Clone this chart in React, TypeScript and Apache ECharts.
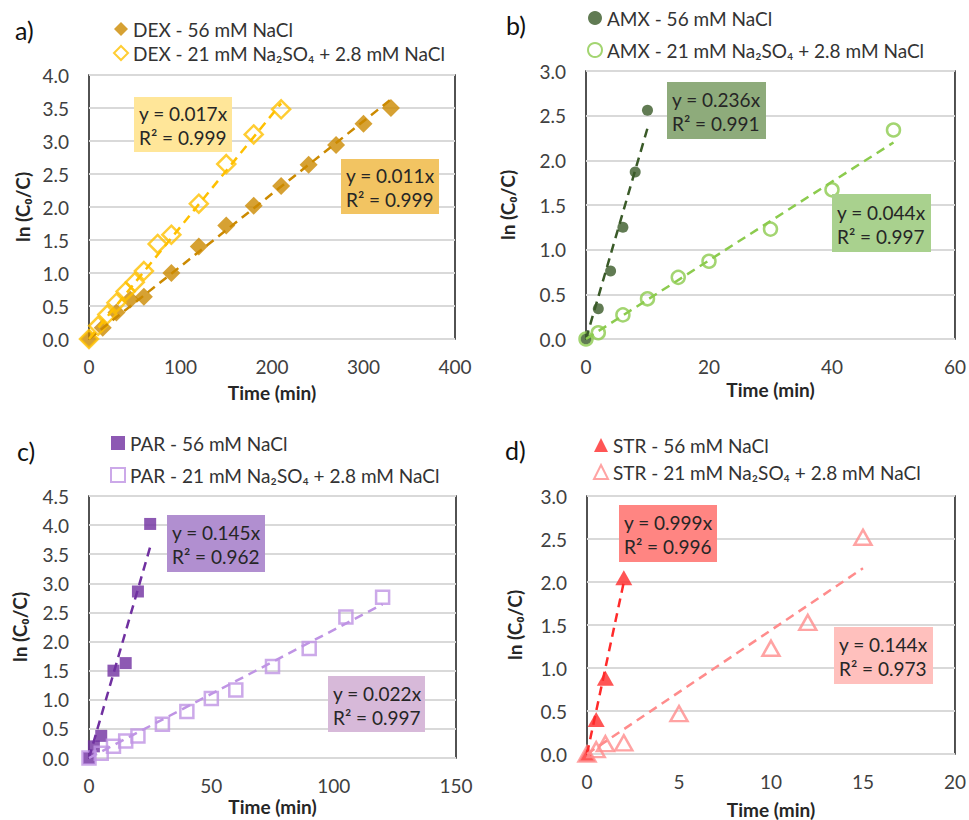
import React, { useEffect, useRef } from 'react';
import * as echarts from 'echarts';

const FONT = 'Lato, "Open Sans", "DejaVu Sans", sans-serif';

// ---------- data ----------
// a) DEX
const dexNaClTime = [0, 15, 30, 45, 60, 90, 120, 150, 180, 210, 240, 270, 300, 330];
const dexNaClLn = [0, 0.17, 0.4, 0.6, 0.64, 1.0, 1.4, 1.72, 2.02, 2.32, 2.64, 2.94, 3.26, 3.5];
const dexSulfTime = [0, 10, 20, 30, 40, 50, 60, 75, 90, 120, 150, 180, 210];
const dexSulfLn = [0, 0.2, 0.37, 0.55, 0.72, 0.86, 1.03, 1.44, 1.58, 2.05, 2.65, 3.1, 3.48];
// b) AMX
const amxNaClTime = [0, 2, 4, 6, 8, 10];
const amxNaClLn = [0, 0.34, 0.76, 1.25, 1.87, 2.56];
const amxSulfTime = [0, 2, 6, 10, 15, 20, 30, 40, 50];
const amxSulfLn = [0, 0.07, 0.27, 0.45, 0.69, 0.87, 1.23, 1.67, 2.34];
// c) PAR
const parNaClTime = [0, 2, 5, 10, 15, 20, 25];
const parNaClLn = [0, 0.2, 0.38, 1.5, 1.63, 2.86, 4.02];
const parSulfTime = [0, 5, 10, 15, 20, 30, 40, 50, 60, 75, 90, 105, 120];
const parSulfLn = [0, 0.08, 0.2, 0.29, 0.38, 0.58, 0.8, 1.02, 1.17, 1.57, 1.88, 2.42, 2.76];
// d) STR
const strNaClTime = [0, 0.5, 1, 2];
const strNaClLn = [0, 0.4, 0.88, 2.05];
const strSulfTime = [0, 0.5, 1, 2, 5, 10, 12, 15];
const strSulfLn = [0, 0.05, 0.12, 0.13, 0.47, 1.23, 1.53, 2.52];

const seriesNames = [
  'DEX - 56 mM NaCl', 'DEX - 21 mM Na₂SO₄ + 2.8 mM NaCl',
  'AMX - 56 mM NaCl', 'AMX - 21 mM Na₂SO₄ + 2.8 mM NaCl',
  'PAR - 56 mM NaCl', 'PAR - 21 mM Na₂SO₄ + 2.8 mM NaCl',
  'STR - 56 mM NaCl', 'STR - 21 mM Na₂SO₄ + 2.8 mM NaCl',
];
const trendSlopes = [0.011, 0.017, 0.236, 0.044, 0.145, 0.022, 0.999, 0.144];
const r2Values = [0.999, 0.999, 0.991, 0.997, 0.962, 0.997, 0.996, 0.973];

const xAxisMax = [400, 60, 150, 20];
const xAxisInterval = [100, 20, 50, 5];
const yAxisMax = [4.0, 3.0, 4.5, 3.0];
const yAxisInterval = [0.5, 0.5, 0.5, 0.5];
const panelTags = ['a)', 'b)', 'c)', 'd)'];

const seriesX = [dexNaClTime, dexSulfTime, amxNaClTime, amxSulfTime, parNaClTime, parSulfTime, strNaClTime, strSulfTime];
const seriesY = [dexNaClLn, dexSulfLn, amxNaClLn, amxSulfLn, parNaClLn, parSulfLn, strNaClLn, strSulfLn];

// ---------- layout & style ----------
const grids = [
  { left: 89, top: 75, width: 366, height: 264 },
  { left: 586, top: 71, width: 370, height: 268 },
  { left: 89, top: 496, width: 367, height: 262 },
  { left: 587, top: 496, width: 372, height: 260 },
];
const xNameGap = [44, 41, 39, 46];
const yNameGap = [57, 69, 60, 63];
const legendPos = [
  { left: 113, top: 19, gap: 4 },
  { left: 587, top: 8, gap: 12 },
  { left: 110, top: 433, gap: 12 },
  { left: 593, top: 435, gap: 7 },
];
const tagPos = [[15, 32], [506, 27], [17, 453], [505, 452]];

const seriesStyle = [
  { color: '#CC8A00', symbol: 'diamond', size: 18, hollow: false },
  { color: '#FFC000', symbol: 'diamond', size: 18, hollow: true },
  { color: '#3A5A28', symbol: 'circle', size: 11, hollow: false },
  { color: '#8CCB4E', symbol: 'circle', size: 13, hollow: true },
  { color: '#7030A0', symbol: 'rect', size: 12, hollow: false },
  { color: '#BF94E4', symbol: 'rect', size: 13, hollow: true },
  { color: '#FF2A2A', symbol: 'triangle', size: [17, 15], hollow: false },
  { color: '#FF8C8C', symbol: 'triangle', size: [17, 15], hollow: true },
];
const boxStyle = [
  { x: 341, y: 159, w: 98, h: 55, fill: '#F2C462' },
  { x: 134, y: 97, w: 98, h: 55, fill: '#FFE699' },
  { x: 667, y: 82, w: 99, h: 57, fill: '#8EAB7B' },
  { x: 832, y: 194, w: 99, h: 58, fill: '#A9D18E' },
  { x: 167, y: 515, w: 98, h: 57, fill: '#B18FD0' },
  { x: 328, y: 676, w: 97, h: 56, fill: '#D7B9D9' },
  { x: 619, y: 505, w: 98, h: 57, fill: '#FF8582' },
  { x: 834, y: 627, w: 99, h: 57, fill: '#FFC0BD' },
];

function buildOption() {
  const series: any[] = [];
  seriesNames.forEach((name, i) => {
    const p = Math.floor(i / 2);
    const st = seriesStyle[i];
    const xs = seriesX[i];
    const ys = seriesY[i];
    const xmax = Math.max(...xs);
    series.push({
      type: 'scatter',
      name,
      xAxisIndex: p,
      yAxisIndex: p,
      data: xs.map((x, k) => [x, ys[k]]),
      symbol: st.symbol,
      symbolSize: st.size,
      itemStyle: st.hollow
        ? { color: 'rgba(255,255,255,0)', borderColor: st.color, borderWidth: 2.5 }
        : { color: st.color },
      z: 3,
    });
    series.push({
      type: 'line',
      xAxisIndex: p,
      yAxisIndex: p,
      data: [[0, 0], [xmax, trendSlopes[i] * xmax]],
      symbol: 'none',
      silent: true,
      lineStyle: { color: st.color, width: 2.5, type: [9, 6] },
      z: 4,
    });
  });

  const graphic: any[] = [];
  panelTags.forEach((t, p) => {
    graphic.push({
      type: 'text',
      left: tagPos[p][0],
      top: tagPos[p][1] - 15,
      style: { text: t, font: `25px ${FONT}`, fill: '#111' },
    });
  });
  boxStyle.forEach((b, i) => {
    graphic.push({
      type: 'rect',
      shape: { x: b.x, y: b.y, width: b.w, height: b.h },
      style: { fill: b.fill },
      z: 10,
    });
    graphic.push({
      type: 'text',
      x: b.x + 5,
      y: b.y + b.h / 2 + 1,
      style: {
        text: `y = ${trendSlopes[i].toFixed(3)}x\nR² = ${r2Values[i].toFixed(3)}`,
        font: `19px ${FONT}`,
        fill: '#262626',
        lineHeight: 24,
        verticalAlign: 'middle',
        align: 'left',
      },
      z: 11,
    });
  });

  return {
    animation: false,
    backgroundColor: '#fff',
    grid: grids.map((g) => ({ ...g, show: true, borderColor: '#1a1a1a', borderWidth: 1.5, backgroundColor: 'transparent' })),
    xAxis: grids.map((_, p) => ({
      type: 'value',
      gridIndex: p,
      min: 0,
      max: xAxisMax[p],
      interval: xAxisInterval[p],
      name: 'Time (min)',
      nameLocation: 'middle',
      nameGap: xNameGap[p],
      nameTextStyle: { fontFamily: FONT, fontSize: 19, fontWeight: 'bold', color: '#262626' },
      axisLine: { show: false },
      axisTick: { show: false },
      splitLine: { show: false },
      axisLabel: { fontFamily: FONT, fontSize: 19, color: '#404040', margin: 18 },
    })),
    yAxis: grids.map((_, p) => ({
      type: 'value',
      gridIndex: p,
      min: 0,
      max: yAxisMax[p],
      interval: yAxisInterval[p],
      name: 'ln (C₀/C)',
      nameLocation: 'middle',
      nameGap: yNameGap[p],
      nameTextStyle: { fontFamily: FONT, fontSize: 19, fontWeight: 'bold', color: '#262626' },
      axisLine: { show: false },
      axisTick: { show: false },
      splitLine: { show: true, lineStyle: { color: '#D9D9D9', width: 2 } },
      axisLabel: { fontFamily: FONT, fontSize: 19, color: '#404040', margin: 20, formatter: (v: number) => v.toFixed(1) },
    })),
    legend: legendPos.map((l, p) => ({
      data: [seriesNames[2 * p], seriesNames[2 * p + 1]],
      orient: 'vertical',
      left: l.left,
      top: l.top,
      itemGap: l.gap,
      itemWidth: 14,
      itemHeight: 14,
      selectedMode: false,
      padding: 0,
      textStyle: { fontFamily: FONT, fontSize: 19, color: '#333', lineHeight: 20 },
    })),
    graphic,
    series,
  };
}

export default function App() {
  const ref = useRef<HTMLDivElement>(null);
  useEffect(() => {
    if (!ref.current) return;
    const chart = echarts.init(ref.current, null, { renderer: 'svg' });
    chart.setOption(buildOption());
    return () => chart.dispose();
  }, []);
  return (
    <div
      ref={ref}
      style={{ position: 'fixed', left: 0, top: 0, width: 969, height: 820, background: '#fff' }}
    />
  );
}
